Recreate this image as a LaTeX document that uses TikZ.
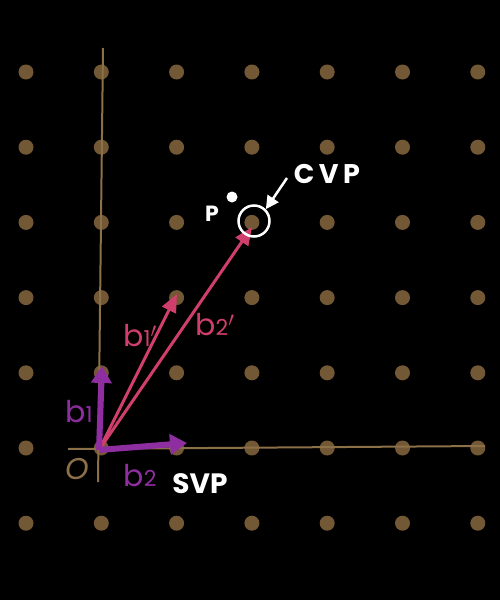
\documentclass[tikz,border=0pt]{standalone}
\usepackage{fontspec}
\setmainfont{Poppins}
\usetikzlibrary{arrows.meta}
\definecolor{dotc}{HTML}{735836}
\definecolor{axisc}{HTML}{8C7048}
\definecolor{purp}{HTML}{8E2EA0}
\definecolor{pinkc}{HTML}{D03F6B}
\newcommand{\sub}[1]{{\fontsize{22}{22}\selectfont #1}}
\tikzset{
  lattice/.style={circle,fill=dotc,inner sep=0pt,minimum size=15pt},
  axisline/.style={axisc,line width=2pt},
  basis/.style={purp,line width=6pt,-{Triangle[length=17pt,width=20pt]}},
  reduced/.style={pinkc,line width=3pt,-{Triangle[length=18pt,width=15pt]}},
  lab/.style={font=\fontsize{30}{30}\selectfont,inner sep=0pt},
}
\begin{document}
\begin{tikzpicture}[x=1pt,y=-1pt]
\fill[black] (0,0) rectangle (500,600);
\useasboundingbox (0,0) rectangle (500,600);
% lattice dots
\foreach \i in {0,...,6}{
  \foreach \j in {0,...,6}{
    \node[lattice] (d\i\j) at ({26+75.3*\i},{72+75.2*\j}) {};
  }
}
% axes
\coordinate (vt) at (103,48);
\coordinate (vb) at (98,482);
\coordinate (hl) at (68,449);
\coordinate (hr) at (485,446);
\draw[axisline] (vt) -- (vb);
\draw[axisline] (hl) -- (hr);
\coordinate (O) at (99,450);
\node[lab,text=axisc] (olab) at (77,469) {\itshape O};
% reduced basis
\coordinate (b1pe) at (177,294);
\coordinate (b2pe) at (252,227);
\draw[reduced] (O) -- (b1pe);
\draw[reduced] (O) -- (b2pe);
\node[lab,text=pinkc] (b1plab) at (140,336) {b\sub{1}$'$};
\node[lab,text=pinkc] (b2plab) at (215,325) {b\sub{2}$'$};
% basis
\coordinate (b1e) at (102,366);
\coordinate (b2e) at (187,443);
\draw[basis] (O) -- (b1e);
\draw[basis] (O) -- (b2e);
\node[lab,text=purp] (b1lab) at (79,412) {b\sub{1}};
\node[lab,text=purp] (b2lab) at (140,476) {b\sub{2}};
\node[lab,text=white,font=\fontsize{28}{28}\selectfont\bfseries] (svp) at (200,484) {SVP};
% target point and CVP
\node[circle,fill=white,inner sep=0pt,minimum size=11pt] (P) at (232,197) {};
\node[lab,text=white,font=\fontsize{22}{22}\selectfont\bfseries] (plab) at (212,214) {P};
\node[circle,draw=white,line width=2.5pt,inner sep=0pt,minimum size=31pt] (cvpc) at (254,221) {};
\node[lab,text=white,font=\fontsize{27}{27}\selectfont\bfseries] (cvp) at (327,174) {C\,V\,P};
\coordinate (ca) at (287,178);
\draw[white,line width=2.5pt,-{Triangle[length=13pt,width=13pt]}] (ca) -- (cvpc.north east);
\end{tikzpicture}
\end{document}
